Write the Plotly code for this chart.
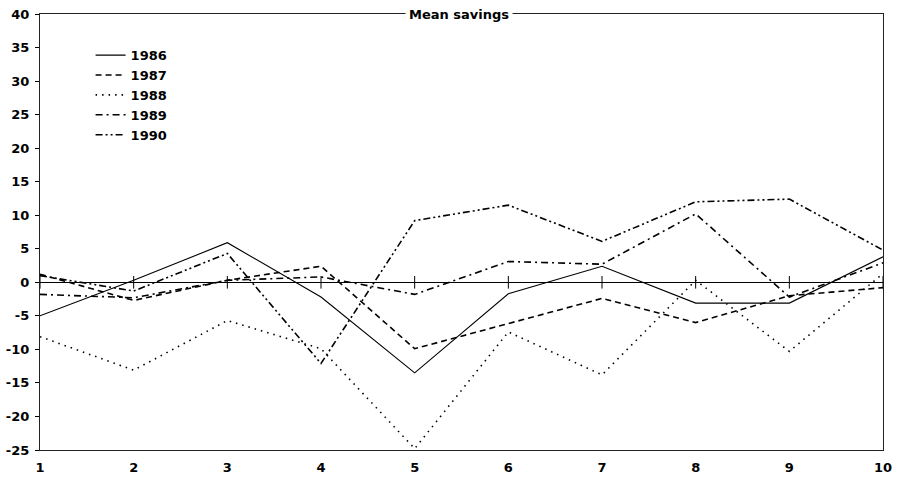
import plotly.graph_objects as go

periods = [1, 2, 3, 4, 5, 6, 7, 8, 9, 10]
s1986 = [-5.0, 0.3, 5.9, -2.2, -13.5, -1.7, 2.4, -3.1, -3.1, 3.8]
s1987 = [1.2, -2.7, 0.3, 2.4, -9.9, -6.2, -2.4, -6.0, -2.0, -0.8]
s1988 = [-8.1, -13.1, -5.7, -9.9, -24.8, -7.4, -13.8, 0.3, -10.3, 1.3]
s1989 = [-1.8, -2.3, 0.3, 0.8, -1.8, 3.1, 2.7, 10.2, -2.2, 2.9]
s1990 = [1.0, -1.3, 4.3, -12.1, 9.2, 11.5, 6.1, 12.0, 12.4, 4.8]
y_ticks = [-25, -20, -15, -10, -5, 0, 5, 10, 15, 20, 25, 30, 35, 40]
y_labels = [str(v) for v in y_ticks]

FONT = "DejaVu Sans"
series = [
    ("1986", s1986, "solid", 1.1),
    ("1987", s1987, "6px,4px", 1.6),
    ("1988", s1988, "1.5px,5px", 1.6),
    ("1989", s1989, "7px,4px,2px,4px", 1.6),
    ("1990", s1990, "7px,3px,2px,3px,2px,3px", 1.6),
]

fig = go.Figure()
for name, vals, dash, w in series:
    fig.add_trace(go.Scatter(x=periods, y=vals, mode="lines", name=name,
                             line=dict(color="black", width=w, dash=dash)))

# tick marks along the zero line
fig.add_trace(go.Scatter(x=periods, y=[0] * len(periods), mode="markers",
                         showlegend=False, hoverinfo="skip",
                         marker=dict(symbol="line-ns", size=9,
                                     line=dict(color="black", width=1))))

fig.update_layout(
    width=899, height=484,
    margin=dict(l=40, r=16, t=14, b=34),
    plot_bgcolor="white", paper_bgcolor="white",
    font=dict(family=FONT, size=12, color="black"),
    showlegend=True,
    legend=dict(x=0.06, y=0.94, xanchor="left", yanchor="top",
                bgcolor="rgba(0,0,0,0)", borderwidth=0,
                font=dict(family=FONT, size=13, color="black", weight="bold"),
                tracegroupgap=0),
    xaxis=dict(range=[1, 10], tickmode="array", tickvals=periods,
               ticktext=[str(p) for p in periods], automargin=False,
               showgrid=False, zeroline=False,
               showline=True, linecolor="#222", linewidth=1.2, mirror=True,
               ticks="", tickfont=dict(family=FONT, size=13, weight="bold"),
               ticklabelstandoff=5),
    yaxis=dict(range=[-25, 40], tickmode="array", tickvals=y_ticks,
               ticktext=y_labels, automargin=False,
               showgrid=False, zeroline=True, zerolinecolor="black",
               zerolinewidth=1,
               showline=True, linecolor="#222", linewidth=1.2, mirror=True,
               ticks="outside", ticklen=4, tickcolor="black",
               tickfont=dict(family=FONT, size=13, weight="bold"),
               ticklabelstandoff=3),
    annotations=[dict(text="<b>Mean savings</b>", x=0.497, y=1.0,
                      xref="paper", yref="paper", xanchor="center",
                      yanchor="middle", showarrow=False,
                      bgcolor="white", borderpad=3,
                      font=dict(family=FONT, size=13, color="black"))],
)

fig.write_html("out.html", config={"displayModeBar": False})

# remove the default page margin so the figure sits at the window origin
with open("out.html", encoding="utf-8") as f:
    html = f.read()
html = html.replace("<head>", "<head><style>html,body{margin:0;padding:0;overflow:hidden;}</style>", 1)
with open("out.html", "w", encoding="utf-8") as f:
    f.write(html)
